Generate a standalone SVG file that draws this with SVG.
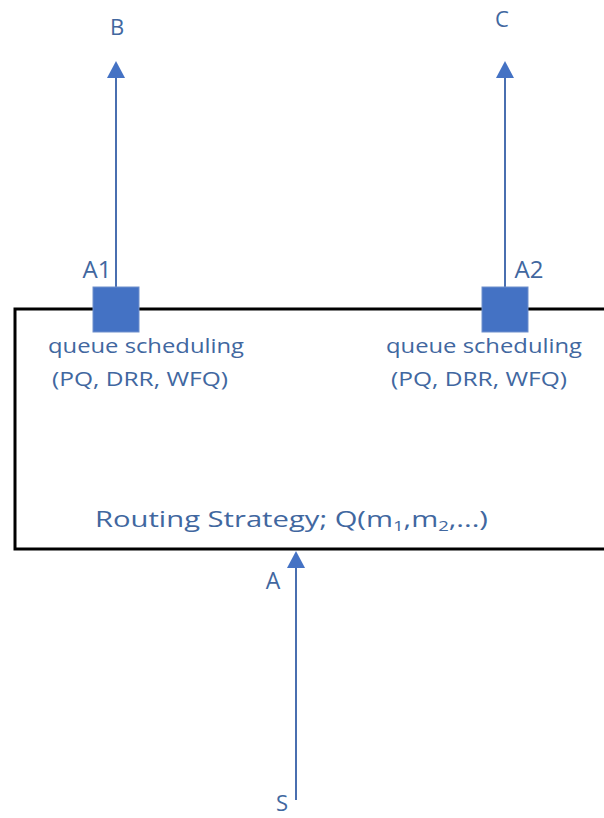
<svg xmlns="http://www.w3.org/2000/svg" width="604" height="818" viewBox="0 0 604 818">
<defs>
<style>
.t{font-family:"Open Sans","Liberation Sans",sans-serif;fill:#41679f;}
.ln{stroke:#4a6fb0;stroke-width:2;fill:none;}
.hd{fill:#4472c4;}
.sq{fill:#4472c4;stroke:#6f8fcc;stroke-width:1;}
</style>
</defs>
<rect width="604" height="818" fill="#fff"/>
<g id="router">
<rect x="15" y="309" width="600" height="240" fill="none" stroke="#000" stroke-width="3"/>
<text class="t" x="95" y="527" font-size="22" textLength="393" lengthAdjust="spacingAndGlyphs">Routing Strategy; Q(m<tspan font-size="14" dy="4">1</tspan><tspan dy="-4">,m</tspan><tspan font-size="14" dy="4">2</tspan><tspan dy="-4">,...)</tspan></text>
</g>
<g id="connectors">
<line class="ln" x1="116" y1="287" x2="116" y2="76"/>
<polygon class="hd" points="116,61 107,78 125,78"/>
<line class="ln" x1="505" y1="287" x2="505" y2="76"/>
<polygon class="hd" points="505,61 496,78 514,78"/>
<line class="ln" x1="296" y1="800" x2="296" y2="566"/>
<polygon class="hd" points="296,551 287,568 305,568"/>
</g>
<g id="A1">
<rect class="sq" x="93" y="287" width="46" height="45"/>
<text class="t" x="97" y="278" font-size="24" text-anchor="middle">A1</text>
<text class="t" x="146" y="353" font-size="20" text-anchor="middle" textLength="196" lengthAdjust="spacingAndGlyphs">queue scheduling</text>
<text class="t" x="140" y="386" font-size="20" text-anchor="middle" textLength="176" lengthAdjust="spacingAndGlyphs">(PQ, DRR, WFQ)</text>
</g>
<g id="A2">
<rect class="sq" x="482" y="287" width="46" height="45"/>
<text class="t" x="529" y="278" font-size="24" text-anchor="middle">A2</text>
<text class="t" x="484" y="353" font-size="20" text-anchor="middle" textLength="196" lengthAdjust="spacingAndGlyphs">queue scheduling</text>
<text class="t" x="479" y="386" font-size="20" text-anchor="middle" textLength="176" lengthAdjust="spacingAndGlyphs">(PQ, DRR, WFQ)</text>
</g>
<g id="B"><text class="t" x="117" y="35" font-size="22" text-anchor="middle">B</text></g>
<g id="C"><text class="t" x="502" y="27" font-size="22" text-anchor="middle">C</text></g>
<g id="A"><text class="t" x="273" y="589" font-size="23" text-anchor="middle">A</text></g>
<g id="S"><text class="t" x="282" y="811" font-size="22" text-anchor="middle">S</text></g>
</svg>
